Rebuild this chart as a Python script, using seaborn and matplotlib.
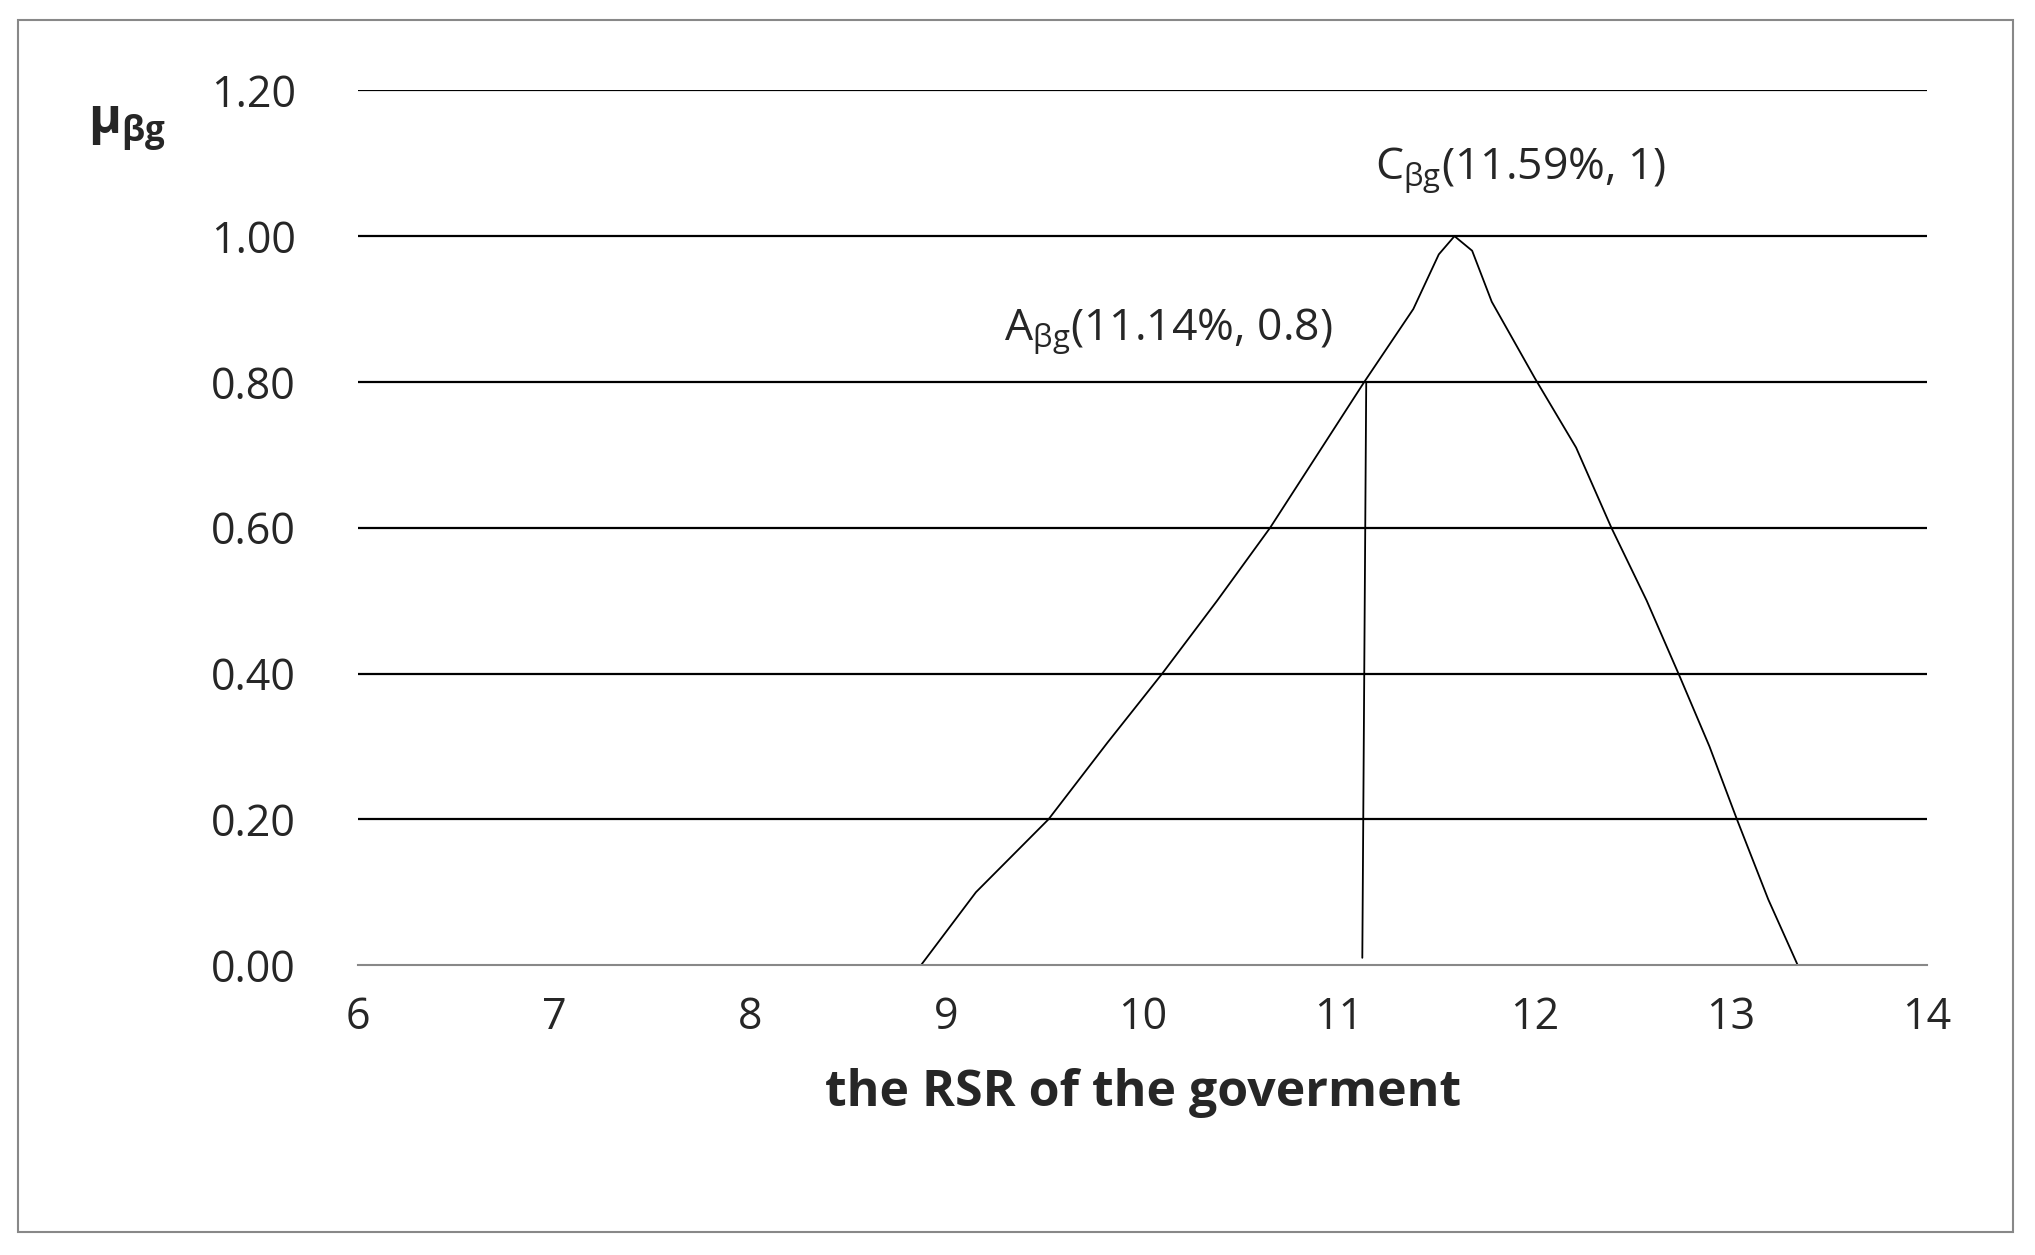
import numpy as np
import pandas as pd
import matplotlib
matplotlib.use("Agg")
import matplotlib.pyplot as plt
import seaborn as sns
from matplotlib.patches import Rectangle

# membership curve
rsr = [8.87, 9.15, 9.52, 9.82, 10.10, 10.38, 10.65, 10.89, 11.13, 11.38,
       11.51, 11.59, 11.68, 11.78, 12.00, 12.21, 12.39, 12.57, 12.74, 12.89,
       13.03, 13.19, 13.34]
mu = [0.0, 0.10, 0.20, 0.305, 0.40, 0.50, 0.60, 0.70, 0.80, 0.90,
      0.975, 1.0, 0.98, 0.91, 0.805, 0.71, 0.60, 0.50, 0.395, 0.30,
      0.20, 0.09, 0.0]
drop_x = [11.14, 11.12]
drop_y = [0.80, 0.01]
y_ticks = [0.0, 0.2, 0.4, 0.6, 0.8, 1.0, 1.2]
x_ticks = [6, 7, 8, 9, 10, 11, 12, 13, 14]

sns.set_style("white")
plt.rcParams["font.family"] = ["Open Sans", "DejaVu Sans"]
plt.rcParams["mathtext.fontset"] = "custom"
plt.rcParams["mathtext.rm"] = "Open Sans"
plt.rcParams["mathtext.it"] = "Open Sans"
plt.rcParams["mathtext.bf"] = "Open Sans:bold"

fig = plt.figure(figsize=(20.35, 12.55), dpi=100)
ax = fig.add_axes([0.176, 0.231, 0.771, 0.697])

fig.patches.append(Rectangle((0.009, 0.018), 0.98, 0.966, transform=fig.transFigure,
                             fill=False, edgecolor="#888888", linewidth=1.5))

for y in y_ticks[1:]:
    ax.axhline(y, color="black", linewidth=1.6, zorder=1)

df = pd.DataFrame({"rsr": rsr, "mu": mu})
sns.lineplot(data=df, x="rsr", y="mu", sort=False, color="black", linewidth=1.3, ax=ax)
ax.plot(drop_x, drop_y, color="black", linewidth=1.3)

ax.set_xlim(6, 14)
ax.set_ylim(0, 1.2)
ax.set_xticks(x_ticks)
ax.set_yticks(y_ticks)
ax.set_yticklabels([f"{v:.2f}" for v in y_ticks])
for s in ["left", "right", "top"]:
    ax.spines[s].set_visible(False)
ax.spines["bottom"].set_color("#888888")
ax.spines["bottom"].set_linewidth(1.5)
ax.tick_params(axis="x", direction="out", length=10, width=1.5, color="#888888",
               labelsize=31, pad=12)
ax.tick_params(axis="y", length=0, labelsize=31, pad=45)

ax.set_xlabel("the RSR of the goverment", fontsize=36, fontweight="bold", labelpad=20)
ax.set_ylabel("")
fig.text(0.043, 0.893, r"$\mathbf{\mu_{\beta g}}$", fontsize=36, fontweight="bold")

ax.text(11.93, 1.09, r"C$_{\beta g}$(11.59%, 1)", fontsize=32, ha="center", va="center")
ax.text(10.13, 0.87, r"A$_{\beta g}$(11.14%, 0.8)", fontsize=32, ha="center", va="center")

fig.savefig("out.png", dpi=100)
